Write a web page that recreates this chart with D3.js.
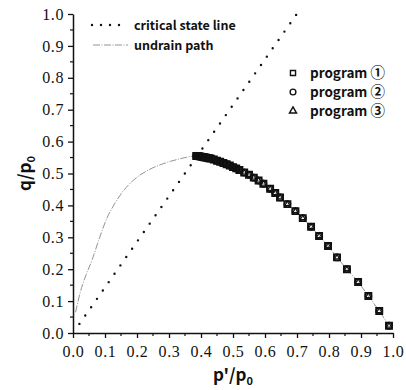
<!DOCTYPE html>
<html>
<head>
<meta charset="utf-8">
<script src="https://cdn.jsdelivr.net/npm/d3@7"></script>
<style>
  body { margin: 0; background: #fff; }
  svg { display: block; }
</style>
</head>
<body>
<div id="chart"></div>
<script>
// critical state line q = M p
const cslP = [0.02, 0.70];
const cslM = 1.43;

// undrained path, rising branch (thin line)
const pathP = [0.008, 0.022, 0.04, 0.06, 0.08, 0.106, 0.13, 0.153, 0.19, 0.234, 0.28, 0.33, 0.385];
const pathQ = [0.065, 0.125, 0.18, 0.23, 0.29, 0.36, 0.405, 0.44, 0.48, 0.51, 0.53, 0.545, 0.555];

// program results (descending branch), the three programs overlap
const progP = [0.385, 0.39, 0.395, 0.40, 0.405, 0.41, 0.415, 0.42, 0.425, 0.43, 0.44, 0.45, 0.46, 0.47, 0.48,
               0.49, 0.50, 0.51, 0.52, 0.535, 0.55, 0.565, 0.58, 0.595, 0.616, 0.632, 0.647, 0.67, 0.695,
               0.718, 0.744, 0.769, 0.797, 0.825, 0.856, 0.891, 0.923, 0.957, 0.9875];
const prog1Q = [0.555, 0.555, 0.554, 0.553, 0.552, 0.551, 0.550, 0.549, 0.548, 0.547, 0.544, 0.540, 0.537, 0.533, 0.529,
                0.525, 0.520, 0.516, 0.511, 0.503, 0.496, 0.487, 0.478, 0.468, 0.452, 0.439, 0.425, 0.404, 0.382,
                0.360, 0.333, 0.304, 0.273, 0.237, 0.200, 0.160, 0.116, 0.069, 0.023];
const prog2Q = prog1Q.slice();
const prog3Q = prog1Q.slice();

const ticks = [0.0, 0.1, 0.2, 0.3, 0.4, 0.5, 0.6, 0.7, 0.8, 0.9, 1.0];
const minorTicks = [0.05, 0.15, 0.25, 0.35, 0.45, 0.55, 0.65, 0.75, 0.85, 0.95];
const progNames = ["program ", "program ", "program "];
const progNums = ["\u2460", "\u2461", "\u2462"];

const W = 406, H = 390;
const m = { left: 73, right: 13, top: 14, bottom: 57 };
const labelFont = "'Noto Sans CJK JP', 'Noto Sans', sans-serif";

const svg = d3.select("#chart").append("svg").attr("width", W).attr("height", H);

const x = d3.scaleLinear().domain([0, 1]).range([m.left, W - m.right]);
const y = d3.scaleLinear().domain([0, 1]).range([H - m.bottom, m.top]);

// axes
const xAxis = d3.axisBottom(x).tickValues(ticks).tickFormat(d3.format(".1f")).tickSizeInner(5).tickSizeOuter(0).tickPadding(4);
const yAxis = d3.axisLeft(y).tickValues(ticks).tickFormat(d3.format(".1f")).tickSizeInner(5).tickSizeOuter(0).tickPadding(4);

const gx = svg.append("g").attr("transform", `translate(0,${y(0)})`).call(xAxis);
const gy = svg.append("g").attr("transform", `translate(${x(0)},0)`).call(yAxis);
[gx, gy].forEach(g => {
  g.select(".domain").attr("stroke", "#111").attr("stroke-width", 1.5);
  g.selectAll(".tick line").attr("stroke", "#111").attr("stroke-width", 1.3);
  g.selectAll(".tick text").attr("fill", "#111")
    .attr("font-family", "'Liberation Serif', 'DejaVu Serif', serif")
    .attr("font-size", 16).attr("letter-spacing", 0.6);
});
gx.selectAll(".tick text").attr("dy", "0.95em");

gx.selectAll(".minor").data(minorTicks).enter().append("line")
  .attr("x1", d => x(d)).attr("x2", d => x(d)).attr("y1", 0).attr("y2", 3)
  .attr("stroke", "#111").attr("stroke-width", 1.2);
gy.selectAll(".minor").data(minorTicks).enter().append("line")
  .attr("y1", d => y(d)).attr("y2", d => y(d)).attr("x1", 0).attr("x2", -3)
  .attr("stroke", "#111").attr("stroke-width", 1.2);

// axis titles
const yt = svg.append("text").attr("transform", `translate(31,${y(0.5)}) rotate(-90)`)
  .attr("text-anchor", "middle").attr("font-family", labelFont)
  .attr("font-weight", "bold").attr("font-size", 17).attr("fill", "#111");
yt.append("tspan").text("q/p");
yt.append("tspan").attr("font-size", 11).attr("dy", 4).text("0");

const xt = svg.append("text").attr("x", x(0.5)).attr("y", 381)
  .attr("text-anchor", "middle").attr("font-family", labelFont)
  .attr("font-weight", "bold").attr("font-size", 17).attr("fill", "#111");
xt.append("tspan").text("p'/p");
xt.append("tspan").attr("font-size", 11).attr("dy", 4).text("0");

// critical state line
const line = d3.line().x(d => x(d[0])).y(d => y(d[1]));
svg.append("path")
  .datum(cslP.map(p => [p, cslM * p]))
  .attr("d", line)
  .attr("fill", "none").attr("stroke", "#111").attr("stroke-width", 2.4)
  .attr("stroke-linecap", "round").attr("stroke-dasharray", "0,10.2");

// undrained path (rising branch + through program points)
const undrained = pathP.map((p, i) => [p, pathQ[i]]).concat(progP.map((p, i) => [p, prog1Q[i]]));
svg.append("path")
  .datum(undrained)
  .attr("d", d3.line().curve(d3.curveMonotoneX).x(d => x(d[0])).y(d => y(d[1])))
  .attr("fill", "none").attr("stroke", "#777").attr("stroke-width", 0.8)
  .attr("stroke-dasharray", "7,1.5,1,1.5");

// markers
const sym = [d3.symbolSquare, d3.symbolCircle, d3.symbolTriangle];
const sizes = [40, 30, 12];
[prog1Q, prog2Q, prog3Q].forEach((qs, k) => {
  svg.append("g").selectAll("path")
    .data(progP.map((p, i) => [p, qs[i]]))
    .enter().append("path")
    .attr("transform", d => `translate(${x(d[0])},${y(d[1])})`)
    .attr("d", d3.symbol().type(sym[k]).size(sizes[k]))
    .attr("fill", "none").attr("stroke", "#111").attr("stroke-width", k === 2 ? 1.2 : 1.6);
});

// legend top-left
const lg = svg.append("g").attr("font-family", labelFont).attr("font-weight", "bold").attr("fill", "#111");
lg.append("line").attr("x1", 92).attr("x2", 128).attr("y1", 25).attr("y2", 25)
  .attr("stroke", "#111").attr("stroke-width", 2.4).attr("stroke-linecap", "round").attr("stroke-dasharray", "0,9");
lg.append("text").attr("font-size", 12.5).attr("x", 134).attr("y", 29.5).text("critical state line");
lg.append("line").attr("x1", 93).attr("x2", 128).attr("y1", 45).attr("y2", 45)
  .attr("stroke", "#777").attr("stroke-width", 0.8).attr("stroke-dasharray", "7,1.5,1,1.5");
lg.append("text").attr("font-size", 12.5).attr("x", 134).attr("y", 49.5).text("undrain path");

// legend right
const rl = svg.append("g").attr("font-family", labelFont).attr("font-weight", "bold").attr("fill", "#111");
progNames.forEach((name, k) => {
  const yy = 73 + k * 19;
  rl.append("path").attr("transform", `translate(293,${yy})`)
    .attr("d", d3.symbol().type(sym[k]).size(k === 2 ? 22 : 26))
    .attr("fill", "none").attr("stroke", "#111").attr("stroke-width", 1.4);
  const t = rl.append("text").attr("font-size", 13.5).attr("x", 310).attr("y", yy + 5);
  t.append("tspan").text(name);
  t.append("tspan").attr("font-size", 14.5).text(progNums[k]);
});
</script>
</body>
</html>
